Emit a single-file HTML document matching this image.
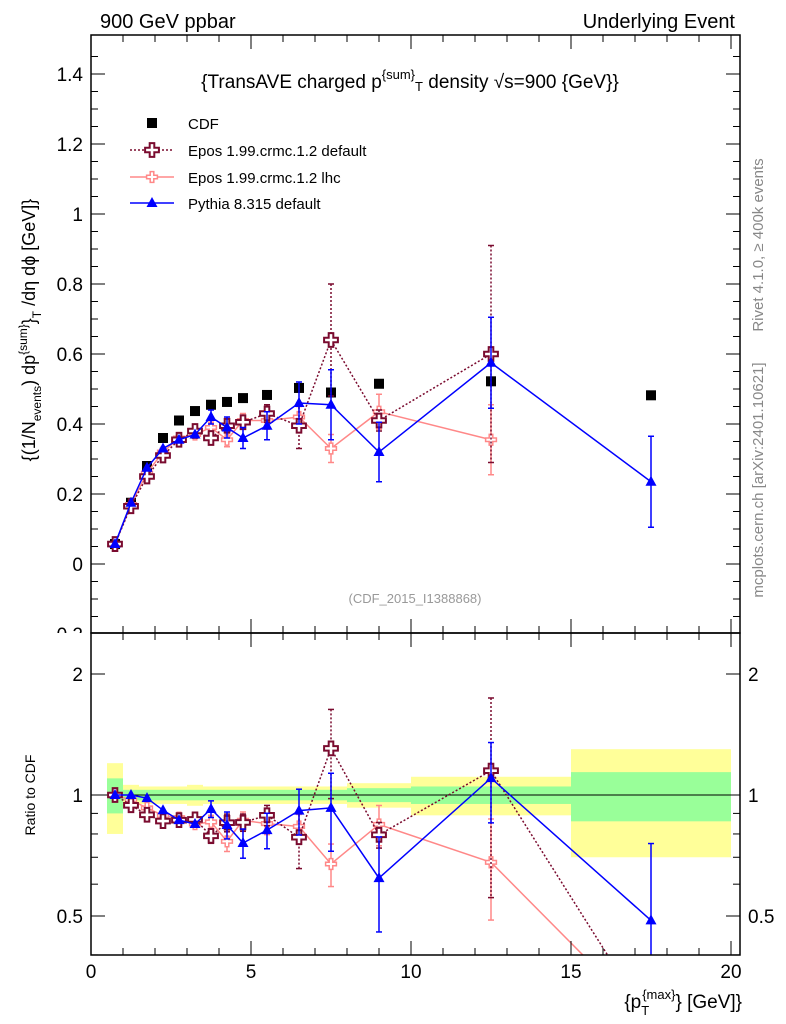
<!DOCTYPE html>
<html><head><meta charset="utf-8"><style>
html,body{margin:0;background:#fff;overflow:hidden;}
svg{font-family:"Liberation Sans",sans-serif;display:block;}
</style></head><body>
<svg id="c" width="786" height="1024" xmlns="http://www.w3.org/2000/svg">
<text x="100" y="28" font-size="20">900 GeV ppbar</text>
<text x="735" y="28" font-size="20" text-anchor="end">Underlying Event</text>
<text transform="translate(763,245) rotate(-90)" font-size="15" fill="#888" text-anchor="middle">Rivet 4.1.0, ≥ 400k events</text>
<text transform="translate(763,480) rotate(-90)" font-size="15" fill="#888" text-anchor="middle">mcplots.cern.ch [arXiv:2401.10621]</text>
<text x="410" y="88" font-size="19" text-anchor="middle">{TransAVE charged p<tspan dy="-9" font-size="13">{sum}</tspan><tspan dy="12" font-size="13">T</tspan><tspan dy="-3"> density √s=900 {GeV}}</tspan></text>
<text x="415" y="603" font-size="13" fill="#999" text-anchor="middle">(CDF_2015_I1388868)</text>
<text transform="translate(35,330) rotate(-90)" font-size="18" text-anchor="middle">{(1/N<tspan dy="6" font-size="12">events</tspan><tspan dy="-6">) dp</tspan><tspan dy="-8" font-size="12">{sum}</tspan><tspan dy="8">}</tspan><tspan dy="6" font-size="12">T</tspan><tspan dy="-6"> /dη  dϕ [GeV]}</tspan></text>
<text transform="translate(35,795) rotate(-90)" font-size="14" text-anchor="middle">Ratio to CDF</text>
<text x="742" y="1008" font-size="19" text-anchor="end">{p<tspan dy="7" font-size="13">T</tspan><tspan dy="-16" dx="-7" font-size="13">{max}</tspan><tspan dy="9">} [GeV]}</tspan></text>
<g id="legend">
<rect x="147" y="118" width="10" height="10" fill="#000"/>
<text x="188" y="129" font-size="15">CDF</text>
<line x1="130" y1="150" x2="174" y2="150" stroke="#7a0b2f" stroke-dasharray="2,2" stroke-width="1.5"/>
<text x="188" y="156" font-size="15">Epos 1.99.crmc.1.2 default</text>
<line x1="130" y1="177" x2="174" y2="177" stroke="#f88" stroke-width="1.5"/>
<text x="188" y="183" font-size="15">Epos 1.99.crmc.1.2 lhc</text>
<line x1="130" y1="203" x2="174" y2="203" stroke="#00f" stroke-width="1.5"/>
<text x="188" y="209" font-size="15">Pythia 8.315 default</text>
</g>
<g id="plots"></g>
</svg>
<script>
const xs=[0.75,1.25,1.75,2.25,2.75,3.25,3.75,4.25,4.75,5.5,6.5,7.5,9,12.5,17.5];
const binLo=[0.5,1,1.5,2,2.5,3,3.5,4,4.5,5,6,7,8,10,15];
const binHi=[1,1.5,2,2.5,3,3.5,4,4.5,5,6,7,8,10,15,20];
const cdf=[0.057,0.175,0.28,0.36,0.41,0.437,0.455,0.463,0.474,0.483,0.503,0.49,0.515,0.522,0.482];
const cdfYel=[0.2,0.06,0.05,0.05,0.05,0.06,0.05,0.05,0.05,0.05,0.05,0.05,0.07,0.11,0.3];
const cdfGrn=[0.1,0.03,0.03,0.03,0.03,0.03,0.03,0.03,0.03,0.03,0.03,0.03,0.04,0.05,0.14];
const eposD=[0.057,0.165,0.25,0.31,0.355,0.38,0.36,0.395,0.405,0.43,0.395,0.64,0.41,0.6,0.13];
const eposDErr=[0.005,0.008,0.01,0.01,0.01,0.01,0.015,0.02,0.02,0.025,0.065,0.16,0.03,0.31,0];
const eposL=[0.057,0.17,0.26,0.32,0.36,0.37,0.39,0.355,0.41,0.41,0.42,0.33,0.435,0.355,0.13];
const eposLErr=[0.005,0.008,0.01,0.01,0.01,0.01,0.015,0.02,0.02,0.025,0.03,0.04,0.05,0.1,0];
const pyth=[0.057,0.175,0.275,0.33,0.355,0.37,0.42,0.39,0.36,0.395,0.46,0.455,0.32,0.575,0.235];
const pythErr=[0.004,0.006,0.008,0.01,0.01,0.012,0.02,0.03,0.03,0.04,0.06,0.1,0.085,0.13,0.13];
const yTicks=[-0.2,0,0.2,0.4,0.6,0.8,1,1.2,1.4];
const yTickLabels=["−0.2","0","0.2","0.4","0.6","0.8","1","1.2","1.4"];
const xTicks=[0,5,10,15,20];
const rTicks=[0.5,1,2];

const NS="http://www.w3.org/2000/svg";
const L=91,R=740,T=35,MB=633,RB=955;
const X=v=>L+v*32;
const Y=v=>564-v*350;
const RY=r=>795-121*Math.log2(r);
const g=document.getElementById('plots');
function el(t,a,p){const e=document.createElementNS(NS,t);for(const k in a)e.setAttribute(k,a[k]);(p||g).appendChild(e);return e;}
const defs=el('defs',{});
const c1=el('clipPath',{id:'cm'},defs);el('rect',{x:L,y:T,width:R-L,height:MB-T},c1);
const c2=el('clipPath',{id:'cr'},defs);el('rect',{x:L,y:MB,width:R-L,height:RB-MB},c2);
const c3=el('clipPath',{id:'cl'},defs);el('rect',{x:0,y:0,width:786,height:MB},c3);
const gm=el('g',{'clip-path':'url(#cm)'});
const gr=el('g',{'clip-path':'url(#cr)'});
for(let i=0;i<xs.length;i++){
  let b=el('rect',{x:X(binLo[i]),y:RY(1+cdfYel[i]),width:X(binHi[i])-X(binLo[i]),height:RY(1-cdfYel[i])-RY(1+cdfYel[i]),fill:'#ffff99'},gr);
  
  
  let c=el('rect',{x:X(binLo[i]),y:RY(1+cdfGrn[i]),width:X(binHi[i])-X(binLo[i]),height:RY(1-cdfGrn[i])-RY(1+cdfGrn[i]),fill:'#99ff99'},gr);
  
  
}
el('line',{x1:L,x2:R,y1:RY(1),y2:RY(1),stroke:'#000','stroke-width':1},gr);
function series(vals,errs,color,dash,marker,name,nmain){
  const pts=[],rpts=[];
  for(let i=0;i<nmain;i++){pts.push(X(xs[i])+','+Y(vals[i]));}
  for(let i=0;i<xs.length;i++){const r=vals[i]/cdf[i];rpts.push(X(xs[i])+','+RY(r));}
  let p=el('polyline',{points:pts.join(' '),fill:'none',stroke:color,'stroke-width':1.5,'stroke-dasharray':dash},gm);
  
  
  let q=el('polyline',{points:rpts.join(' '),fill:'none',stroke:color,'stroke-width':1.5,'stroke-dasharray':dash},gr);
  
  
  for(let i=0;i<nmain;i++){
    const x=X(xs[i]);
    [[gm,Y(vals[i]),Y(vals[i]+errs[i]),Y(vals[i]-errs[i])],[gr,RY(vals[i]/cdf[i]),RY((vals[i]+errs[i])/cdf[i]),RY(Math.max(vals[i]-errs[i],0.01)/cdf[i])]].forEach(([pg,y,y1,y2])=>{
      if(errs[i]>0.012){el('line',{x1:x,x2:x,y1:y1,y2:y2,stroke:color,'stroke-width':1.5,'stroke-dasharray':dash},pg);
        el('line',{x1:x-3,x2:x+3,y1:y1,y2:y1,stroke:color,'stroke-width':1.5},pg);
        el('line',{x1:x-3,x2:x+3,y1:y2,y2:y2,stroke:color,'stroke-width':1.5},pg);}
      let m;
      if(marker==='tri')m=el('polygon',{points:`${x},${y-6} ${x-5.5},${y+4} ${x+5.5},${y+4}`,fill:color},pg);
      else{const s=marker==='cross'?2.3:1.8,w=marker==='cross'?2:1.5;
        m=el('path',{d:`M${x-s},${y-3*s}h${2*s}v${2*s}h${2*s}v${2*s}h${-2*s}v${2*s}h${-2*s}v${-2*s}h${-2*s}v${-2*s}h${2*s}z`,fill:'#fff',stroke:color,'stroke-width':w},pg);}
      
      
    });
  }
}
for(let i=0;i<xs.length;i++){
  let s=el('rect',{x:X(xs[i])-5,y:Y(cdf[i])-5,width:10,height:10,fill:'#000'},gm);
  
  
}
series(eposL,eposLErr,'#f88','', 'cross-s','epos-lhc',14);
series(eposD,eposDErr,'#7a0b2f','2,2','cross','epos-default',14);
series(pyth,pythErr,'#00f','','tri','pythia',15);
el('path',{d:'M149.7,143.1h4.6v4.6h4.6v4.6h-4.6v4.6h-4.6v-4.6h-4.6v-4.6h4.6z',fill:'#fff',stroke:'#7a0b2f','stroke-width':2});
el('path',{d:'M150.2,171.6h3.6v3.6h3.6v3.6h-3.6v3.6h-3.6v-3.6h-3.6v-3.6h3.6z',fill:'#fff',stroke:'#f88','stroke-width':1.5});
el('polygon',{points:'152,197 146.5,207 157.5,207',fill:'#00f'});
el('rect',{x:L,y:T,width:R-L,height:MB-T,fill:'none',stroke:'#000','stroke-width':1.5});
el('rect',{x:L,y:MB,width:R-L,height:RB-MB,fill:'none',stroke:'#000','stroke-width':1.5});
for(let v=-0.15;v<=1.5;v+=0.05){const y=Y(v);if(y<T||y>MB)continue;const maj=Math.abs(v*5-Math.round(v*5))<1e-6;const l=maj?14:7;
  el('line',{x1:L,x2:L+l,y1:y,y2:y,stroke:'#000'});el('line',{x1:R-l,x2:R,y1:y,y2:y,stroke:'#000'});}
const gl=el('g',{'clip-path':'url(#cl)'});
yTicks.forEach((v,i)=>{let t=el('text',{x:L-8,y:Y(v)+7,'font-size':19,'text-anchor':'end'},gl);t.textContent=yTickLabels[i];
  });
for(let v=0;v<=20.5;v+=1){const x=X(v);if(x>R)continue;const maj=v%5===0;const l=maj?14:7;
  [[MB,-1],[RB,-1],[T,1],[MB,1]].forEach(([y0,d])=>el('line',{x1:x,x2:x,y1:y0,y2:y0+d*l,stroke:'#000'}));}
xTicks.forEach(v=>{let t=el('text',{x:X(v),y:978,'font-size':19,'text-anchor':'middle'});t.textContent=String(v);
  });
[0.4,0.5,0.6,0.7,0.8,0.9,1,2].forEach(r=>{const y=RY(r);const maj=rTicks.includes(r);const l=maj?14:7;
  el('line',{x1:L,x2:L+l,y1:y,y2:y,stroke:'#000'});el('line',{x1:R-l,x2:R,y1:y,y2:y,stroke:'#000'});});
rTicks.forEach(r=>{let t=el('text',{x:L-8,y:RY(r)+7,'font-size':19,'text-anchor':'end'});t.textContent=String(r);
  
  let u=el('text',{x:R+8,y:RY(r)+7,'font-size':19});u.textContent=String(r);
  });
</script>
</body></html>
